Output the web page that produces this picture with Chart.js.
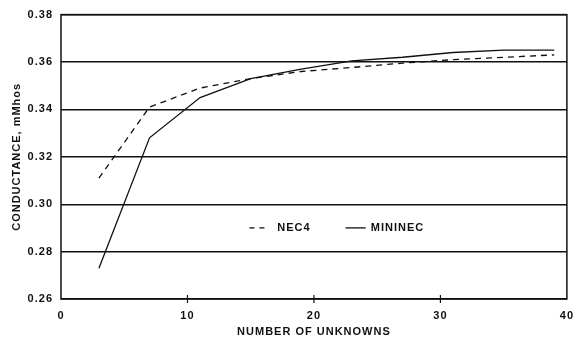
<!DOCTYPE html>
<html>
<head>
<meta charset="utf-8">
<script src="https://cdn.jsdelivr.net/npm/chart.js@4/dist/chart.umd.min.js"></script>
<style>
  html, body { margin: 0; padding: 0; background: #fff; }
  #wrap { width: 584px; height: 339px; }
</style>
</head>
<body>
<div id="wrap"><canvas id="chart"></canvas></div>
<script>
// number of unknowns (x) and conductance values in mMhos
const unknowns = [3, 7, 11, 15, 19, 23, 27, 31, 35, 39];
const nec4 = [0.311, 0.341, 0.349, 0.353, 0.356, 0.3577, 0.3595, 0.361, 0.362, 0.363];
const mininec = [0.273, 0.328, 0.345, 0.353, 0.357, 0.3605, 0.362, 0.364, 0.365, 0.365];
const xTicks = [0, 10, 20, 30, 40];
const yTicks = [0.26, 0.28, 0.30, 0.32, 0.34, 0.36, 0.38];

const FONT = "'Liberation Sans', Arial, sans-serif";

function spacing(chart) {
  chart.ctx.letterSpacing = "1px";
}

// frame around plot + little tick marks crossing the x axis
const framePlugin = {
  id: "frame",
  beforeUpdate: spacing,
  beforeDraw: spacing,
  afterDraw(chart) {
    const { ctx, chartArea: a, scales } = chart;
    ctx.save();
    ctx.strokeStyle = "#111";
    ctx.lineWidth = 1.5;
    ctx.strokeRect(a.left, a.top, a.right - a.left, a.bottom - a.top);
    ctx.lineWidth = 1.2;
    xTicks.slice(1, -1).forEach(v => {
      const x = scales.x.getPixelForValue(v);
      ctx.beginPath();
      ctx.moveTo(x, a.bottom - 4);
      ctx.lineTo(x, a.bottom + 4);
      ctx.stroke();
    });
    ctx.restore();
  }
};

// legend drawn inside the plot
const legendPlugin = {
  id: "inlineLegend",
  afterDatasetsDraw(chart) {
    const { ctx, scales } = chart;
    const y = scales.y.getPixelForValue(0.29);
    const items = [
      { label: "NEC4", from: 14.9, to: 16.3, text: 17.1, dash: [5, 5] },
      { label: "MININEC", from: 22.5, to: 24.1, text: 24.5, dash: [] }
    ];
    ctx.save();
    ctx.letterSpacing = "1px";
    ctx.strokeStyle = "#111";
    ctx.fillStyle = "#111";
    ctx.lineWidth = 1.3;
    ctx.font = "bold 11px " + FONT;
    ctx.textBaseline = "middle";
    items.forEach(it => {
      ctx.setLineDash(it.dash);
      ctx.beginPath();
      ctx.moveTo(scales.x.getPixelForValue(it.from), y);
      ctx.lineTo(scales.x.getPixelForValue(it.to), y);
      ctx.stroke();
      ctx.fillText(it.label, scales.x.getPixelForValue(it.text), y);
    });
    ctx.restore();
  }
};

new Chart(document.getElementById("chart"), {
  type: "line",
  data: {
    datasets: [
      {
        label: "NEC4",
        data: unknowns.map((n, i) => ({ x: n, y: nec4[i] })),
        borderColor: "#111",
        borderWidth: 1.3,
        borderDash: [6, 5],
        pointRadius: 0,
        tension: 0
      },
      {
        label: "MININEC",
        data: unknowns.map((n, i) => ({ x: n, y: mininec[i] })),
        borderColor: "#111",
        borderWidth: 1.3,
        pointRadius: 0,
        tension: 0
      }
    ]
  },
  options: {
    responsive: true,
    maintainAspectRatio: false,
    animation: false,
    layout: { padding: { top: 14, right: 6, left: 0, bottom: 0 } },
    plugins: {
      legend: { display: false },
      tooltip: { enabled: false }
    },
    scales: {
      x: {
        type: "linear",
        min: 0,
        max: 40,
        afterBuildTicks: s => { s.ticks = xTicks.map(v => ({ value: v })); },
        afterFit: s => { s.height = 40; },
        grid: { display: false, drawTicks: false },
        border: { display: false },
        ticks: {
          color: "#111",
          padding: 10,
          font: { family: FONT, size: 11, weight: "bold" },
          maxRotation: 0
        },
        title: {
          display: true,
          text: "NUMBER OF UNKNOWNS",
          color: "#111",
          padding: { top: 2, bottom: 0 },
          font: { family: FONT, size: 11, weight: "bold" }
        }
      },
      y: {
        min: 0.26,
        max: 0.38,
        afterBuildTicks: s => { s.ticks = yTicks.map(v => ({ value: v })); },
        afterFit: s => { s.width = 61; },
        grid: { color: "#111", lineWidth: 1.4, drawTicks: false },
        border: { display: false },
        ticks: {
          color: "#111",
          padding: 8,
          font: { family: FONT, size: 11, weight: "bold" },
          callback: v => v.toFixed(2)
        },
        title: {
          display: true,
          text: "CONDUCTANCE, mMhos",
          color: "#111",
          padding: { top: 10, bottom: 0 },
          font: { family: FONT, size: 11, weight: "bold" }
        }
      }
    }
  },
  plugins: [framePlugin, legendPlugin]
});
</script>
</body>
</html>
